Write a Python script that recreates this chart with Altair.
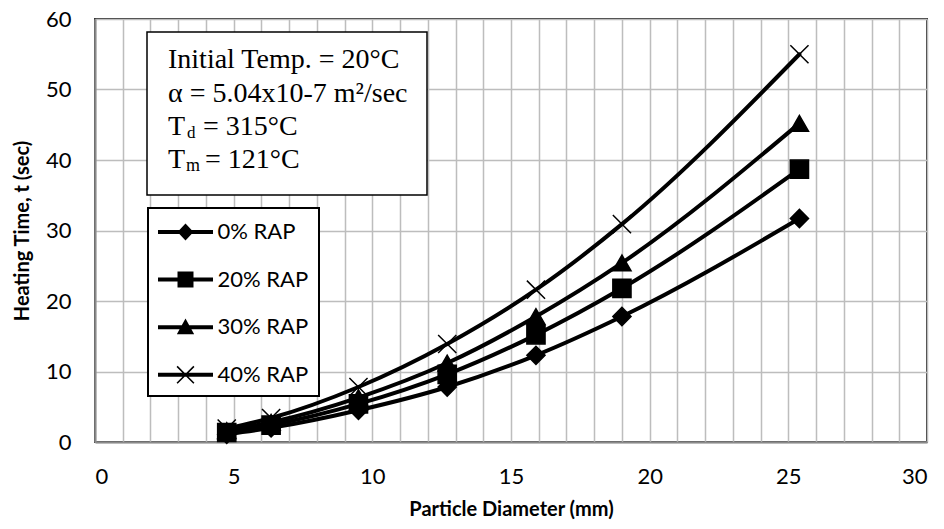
import altair as alt
import pandas as pd

# ---- data ----
diameters = [4.75, 6.35, 9.5, 12.7, 15.9, 19.0, 25.4]
series = ["0% RAP", "20% RAP", "30% RAP", "40% RAP"]
t_0 = [1.1, 2.0, 4.5, 7.8, 12.3, 17.8, 31.7]
t_20 = [1.35, 2.4, 5.4, 9.6, 15.2, 21.8, 38.7]
t_30 = [1.6, 2.8, 6.3, 11.2, 17.8, 25.4, 45.2]
t_40 = [1.9, 3.4, 7.8, 13.9, 21.6, 30.9, 55.0]
x_ticks = list(range(0, 31))
y_ticks = [0, 10, 20, 30, 40, 50, 60]
x_title = "Particle Diameter (mm)"
y_title = "Heating Time, t (sec)"

rows = []
for name, vals in zip(series, [t_0, t_20, t_30, t_40]):
    for d, v in zip(diameters, vals):
        rows.append({"d": d, "t": v, "series": name})
df = pd.DataFrame(rows)

W, H = 832, 423
FONT = "Lato"
SERIF = "Liberation Serif"

x_enc = alt.X(
    "d:Q",
    scale=alt.Scale(domain=[0, 30], nice=False, zero=True),
    axis=alt.Axis(
        values=x_ticks,
        labelExpr="datum.value % 5 === 0 ? datum.label : ''",
        title=x_title,
        grid=True,
        ticks=False,
        labelPadding=24,
        titlePadding=12,
    ),
)
y_enc = alt.Y(
    "t:Q",
    scale=alt.Scale(domain=[0, 60], nice=False),
    axis=alt.Axis(
        values=y_ticks,
        title=y_title,
        grid=True,
        ticks=False,
        labelPadding=24,
        titlePadding=13,
    ),
)

base = alt.Chart(df)

lines = base.mark_line(
    interpolate="monotone", strokeWidth=4, color="black", strokeCap="round"
).encode(x=x_enc, y=y_enc, detail="series:N")

points = base.mark_point(
    filled=True, fill="black", stroke="black", strokeWidth=1.5, opacity=1, size=330
).encode(
    x=x_enc,
    y=y_enc,
    shape=alt.Shape(
        "series:N",
        scale=alt.Scale(
            domain=series,
            range=["diamond", "square", "triangle-up", "M-1,-1L1,1M1,-1L-1,1"],
        ),
        legend=None,
    ),
)

bar = "M-1.964,-0.143H1.964V0.143H-1.964Z"
legend_paths = [
    bar + "M0,-0.607L0.571,0L0,0.607L-0.571,0Z",
    bar + "M-0.571,-0.571H0.571V0.571H-0.571Z",
    bar + "M0,-0.62L0.62,0.5H-0.62Z",
    bar
    + "M-0.56,-0.64L0.64,0.56L0.56,0.64L-0.64,-0.56Z"
    + "M0.64,-0.56L-0.56,0.64L-0.64,0.56L0.56,-0.64Z",
]

legend_layer = (
    base.transform_filter("false")
    .mark_point(filled=True, color="black", opacity=1)
    .encode(
        shape=alt.Shape(
            "series:N",
            scale=alt.Scale(domain=series, range=legend_paths),
            legend=alt.Legend(
                title=None,
                orient="none",
                legendX=53,
                legendY=189,
                padding=10,
                strokeColor="black",
                fillColor="white",
                symbolSize=784,
                symbolStrokeWidth=0,
                symbolFillColor="black",
                symbolStrokeColor="black",
                symbolOpacity=1,
                symbolOffset=13.5,
                labelOffset=18,
                rowPadding=22.6,
                labelFont=FONT,
                labelFontSize=22,
                labelColor="black",
                labelLimit=300,
            ),
        )
    )
)

# ---- annotation text box ----
anno = pd.DataFrame({"k": [0]})
box = alt.Chart(anno).mark_rect(
    fill="white", stroke="black", strokeWidth=1.5
).encode(x=alt.value(52), x2=alt.value(332), y=alt.value(13), y2=alt.value(176))


def txt(s, x, y, size=28):
    return alt.Chart(anno).mark_text(
        text=s, font=SERIF, fontSize=size, align="left", baseline="alphabetic", color="black"
    ).encode(x=alt.value(x), y=alt.value(y))


texts = [
    txt("Initial Temp. = 20°C", 73, 49),
    txt("α = 5.04x10-7 m²/sec", 73, 83),
    txt("T", 73, 116),
    txt("d", 92, 119, 17),
    txt("= 315°C", 108, 116),
    txt("T", 73, 149),
    txt("m", 91, 152, 18),
    txt("= 121°C", 110, 149),
]

chart = (
    alt.layer(lines, points, legend_layer, box, *texts)
    .resolve_scale(shape="independent")
    .properties(
        width=W,
        height=H,
        padding={"left": 95, "top": 19, "right": 17, "bottom": 87},
        autosize=alt.AutoSizeParams(type="none"),
        background="white",
    )
    .configure_view(stroke="#333333", strokeWidth=2)
    .configure_axis(
        gridColor="#bdbdbd",
        gridWidth=1.5,
        domainColor="#8a8a8a",
        domainWidth=2,
        labelFont=FONT,
        labelFontSize=22,
        labelColor="black",
        titleFont=FONT,
        titleFontSize=20,
        titleFontWeight="bold",
        titleColor="black",
    )
    .configure_legend(strokeWidth=2)
)

chart.save("out.html", embed_options={"renderer": "svg", "actions": False})
